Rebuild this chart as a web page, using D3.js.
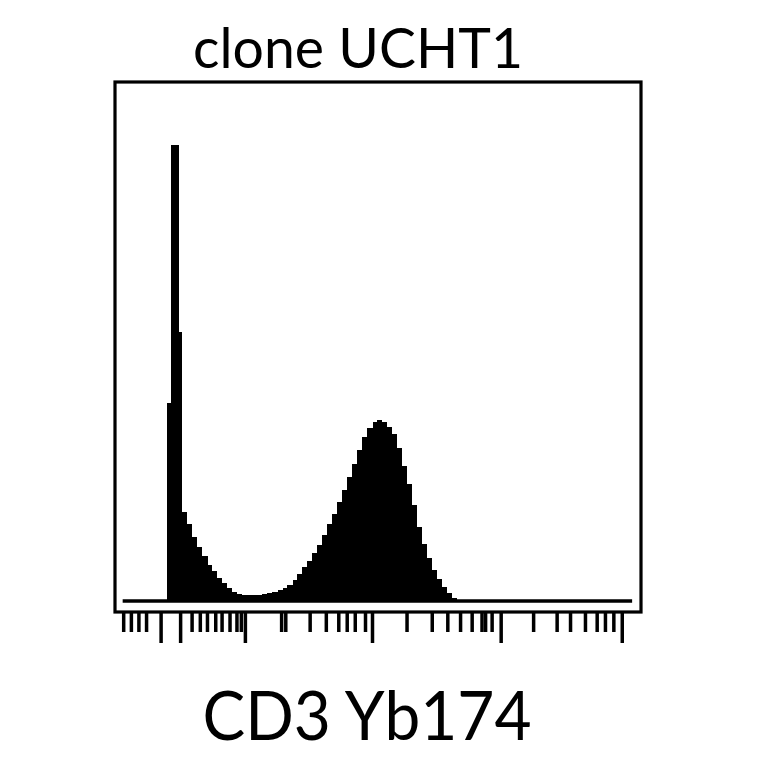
<!DOCTYPE html>
<html>
<head>
<meta charset="utf-8">
<script src="https://d3js.org/d3.v7.min.js"></script>
<style>
  body { margin: 0; background: #fff; }
  text { font-family: Lato, "Open Sans", sans-serif; fill: #000; }
</style>
</head>
<body>
<div id="chart"></div>
<script>
// histogram bins on a log intensity axis (edges has one more entry than counts)
const binEdges = [2.34, 2.56, 2.94,
    3.13, 3.43, 3.76, 4.12, 4.51, 4.95, 5.42, 5.94, 6.50, 7.13, 7.81, 8.55, 9.37,
    10.3, 11.3, 12.3, 13.5, 14.8, 16.2, 17.8, 19.5, 21.3, 23.4, 25.6, 28.0, 30.7,
    33.6, 36.9, 40.4, 44.2, 48.5, 53.1, 58.2, 63.8, 69.8, 76.5, 83.8, 91.9,
    101, 110, 121, 132, 145, 159, 174, 191, 209, 229, 251, 275, 301, 330, 361,
    396, 434, 475];
const counts = [43.4, 100, 59.0,
    19.5, 16.9, 14.0, 11.8, 9.9, 7.9, 6.6, 5.0, 3.9, 2.9, 2.0, 1.5, 1.3, 1.3,
    1.3, 1.3, 1.5, 1.8, 2.0, 2.4, 2.9, 3.5, 4.6, 5.9, 7.5, 8.8, 10.5, 12.3,
    14.5, 16.9, 19.1, 21.7, 24.3, 27.2, 30.0, 33.1, 36.0, 37.9, 39.3, 39.7,
    39.3, 38.2, 36.6, 33.6, 29.6, 25.7, 21.1, 16.2, 12.5, 9.4, 6.8, 4.8, 3.1,
    1.8, 0.7];

const baseRange = [1.05, 11600];
const majorTicks = [2.1, 3, 9.8, 100, 1050, 9600];
const minorTicks = [1.06, 1.22, 1.4, 1.61,
    3.7, 4.3, 4.9, 5.7, 6.4, 7.4, 8.4, 9.1,
    19, 20.5, 32, 43, 54, 63, 73, 88,
    188, 298, 396, 500, 618, 740, 790, 890,
    1900, 2920, 3730, 4900, 6070, 7060, 8230];

const title = "clone UCHT1";
const xLabel = "CD3 Yb174";

const width = 764, height = 764;
const frame = {left: 115, top: 82, right: 641, bottom: 612};

const svg = d3.select("#chart").append("svg")
    .attr("width", width)
    .attr("height", height);

svg.append("rect")
    .attr("width", width)
    .attr("height", height)
    .attr("fill", "#fff");

const x = d3.scaleLog()
    .domain([1, 10000])
    .range([120, 624]);

const y = d3.scaleLinear()
    .domain([0, 100])
    .range([601, 145]);

// frame
svg.append("rect")
    .attr("x", frame.left)
    .attr("y", frame.top)
    .attr("width", frame.right - frame.left)
    .attr("height", frame.bottom - frame.top)
    .attr("fill", "none")
    .attr("stroke", "#000")
    .attr("stroke-width", 3.2);

// histogram as a step area
const pts = counts.map((c, i) => ({v: binEdges[i], c: c}));
pts.push({v: binEdges[binEdges.length - 1], c: 0});

const area = d3.area()
    .curve(d3.curveStepAfter)
    .x(d => x(d.v))
    .y0(y(0))
    .y1(d => y(d.c));

svg.append("path")
    .datum(pts)
    .attr("fill", "#000")
    .attr("stroke", "none")
    .attr("shape-rendering", "crispEdges")
    .attr("d", area);

// baseline
svg.append("line")
    .attr("x1", x(baseRange[0]))
    .attr("x2", x(baseRange[1]))
    .attr("y1", y(0))
    .attr("y2", y(0))
    .attr("stroke", "#000")
    .attr("stroke-width", 3.5);

// ticks under the frame
const minorAxis = svg.append("g")
    .attr("transform", `translate(0,${frame.bottom})`)
    .call(d3.axisBottom(x).tickValues(minorTicks).tickSize(20).tickFormat(""));
const majorAxis = svg.append("g")
    .attr("transform", `translate(0,${frame.bottom})`)
    .call(d3.axisBottom(x).tickValues(majorTicks).tickSize(31).tickFormat(""));

[minorAxis, majorAxis].forEach(g => {
    g.select(".domain").remove();
    g.selectAll(".tick line")
        .attr("stroke", "#000")
        .attr("stroke-width", 3.5);
});

svg.append("text")
    .attr("x", 358)
    .attr("y", 68)
    .attr("text-anchor", "middle")
    .attr("textLength", 330)
    .attr("lengthAdjust", "spacingAndGlyphs")
    .style("font-size", "56px")
    .text(title);

svg.append("text")
    .attr("x", 367)
    .attr("y", 740)
    .attr("text-anchor", "middle")
    .attr("textLength", 329)
    .attr("lengthAdjust", "spacingAndGlyphs")
    .style("font-size", "67px")
    .text(xLabel);
</script>
</body>
</html>
